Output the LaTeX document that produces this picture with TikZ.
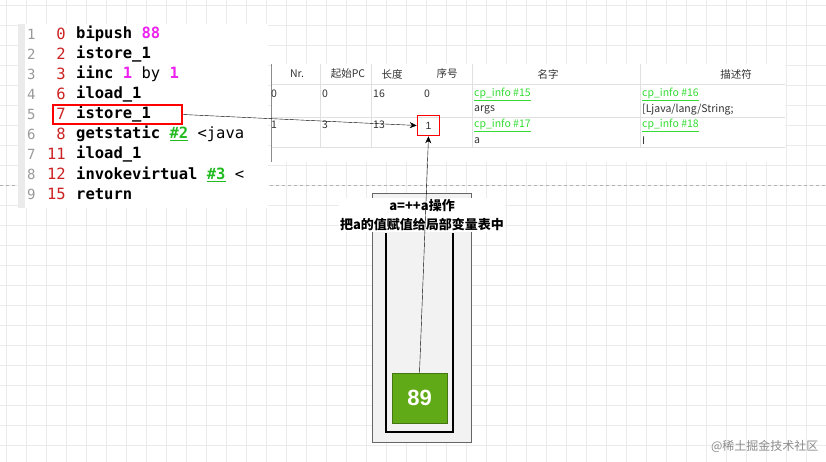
\documentclass[tikz,border=0pt]{standalone}
\usepackage{fontspec}
\setmainfont{Liberation Sans}
\setmonofont{DejaVu Sans Mono}
\newfontfamily\cjk{Noto Sans CJK SC}
\usetikzlibrary{arrows.meta}
\definecolor{lnum}{HTML}{999999}
\definecolor{offc}{HTML}{CC2222}
\definecolor{mag}{HTML}{EE22EE}
\definecolor{grn}{HTML}{22BB22}
\definecolor{lk}{HTML}{33DD33}
\definecolor{stk}{HTML}{60A917}
\definecolor{rbx}{HTML}{FF0000}
\tikzset{
 code/.style={anchor=west,font=\ttfamily\bfseries\fontsize{15.5}{18}\selectfont,inner sep=0},
 lno/.style={anchor=west,font=\ttfamily\fontsize{14}{18}\selectfont,text=lnum,inner sep=0},
 off/.style={anchor=east,font=\ttfamily\fontsize{15.5}{18}\selectfont,text=offc,inner sep=0},
 tb/.style={font=\cjk\fontsize{10.5}{12}\selectfont,inner sep=0,text=black!80},
 tbl/.style={tb,anchor=west},
 redbox/.style={draw=rbx,line width=1.6pt,inner sep=0},
 arr/.style={-{Stealth[length=7pt,width=6pt]},black}
}
\begin{document}
\begin{tikzpicture}[x=1pt,y=-1pt]
\useasboundingbox (0,0) rectangle (826,462);
\fill[white] (0,0) rectangle (826,462);
\foreach \i in {0,...,41} \draw[black!8] (\i*20+6,0) -- (\i*20+6,462);
\foreach \i in {0,...,23} \draw[black!8] (0,\i*20+5) -- (826,\i*20+5);
\draw[black!30,dashed] (0,185) -- (826,185);
% code panel
\fill[white] (18,24) rectangle (268,208);
\fill[black!8] (18,24) rectangle (25,208);
\foreach \n/\o/\t [count=\k from 0] in {1/0/{bipush \textcolor{mag}{88}},2/2/istore\_1,3/3/{iinc \textcolor{mag}{1} \textmd{by} \textcolor{mag}{1}},4/6/iload\_1,5/7/istore\_1,6/8/{getstatic \textcolor{grn}{\underline{\#2}} \textmd{<java}},7/11/iload\_1,8/12/{invokevirtual \textcolor{grn}{\underline{\#3}} \textmd{<}},9/15/return}{
 \node[lno] (ln\n) at (27,34+\k*20) {\n};
 \node[off] (of\n) at (66,34+\k*20) {\o};
 \node[code] (cd\n) at (76,34+\k*20) {\t};
}
\node[redbox,minimum width=129pt,minimum height=19pt] (ist) at (117.5,114.5) {};
% table
\fill[white] (272,64) rectangle (785,162);
\draw[black!45] (271,64) -- (271,162);
\draw[black!12] (272,84) -- (785,84) (272,117) -- (785,117) (272,147) -- (785,147);
\foreach \x in {320,371,472,640} \draw[black!12] (\x,64) -- (\x,147);
\node[tb] (h1) at (297,74) {Nr.};
\node[tb] (h2) at (348,74) {起始PC};
\node[tb] (h3) at (392,74) {长度};
\node[tb] (h4) at (447,74) {序号};
\node[tb] (h5) at (548,74) {名字};
\node[tb] (h6) at (736,74) {描述符};
\node[tbl] (a1) at (271,94) {0};
\node[tbl] (a2) at (322,94) {0};
\node[tbl] (a3) at (373,94) {16};
\node[tbl] (a4) at (424,94) {0};
\node[tbl,text=lk] (a5) at (474,94) {\underline{cp\_info \#15}};
\node[tbl,text=lk] (a6) at (642,94) {\underline{cp\_info \#16}};
\node[tbl] (a7) at (474,110) {args};
\node[tbl] (a8) at (642,110) {[Ljava/lang/String;};
\node[tbl] (b1) at (271,125) {1};
\node[tbl] (b2) at (322,125) {3};
\node[tbl] (b3) at (373,125) {13};
\node[tbl,text=lk] (b5) at (474,125) {\underline{cp\_info \#17}};
\node[tbl,text=lk] (b6) at (642,125) {\underline{cp\_info \#18}};
\node[tbl] (b7) at (474,141) {a};
\node[tbl] (b8) at (642,141) {I};
% stack
\draw[black!60,fill=black!5] (372,193) rectangle (471,442);
\draw[line width=1.6pt] (386,233) -- (386,432) -- (453,432) -- (453,233);
\node[fill=stk,draw=stk!70!black,minimum width=55pt,minimum height=50pt,inner sep=0,text=white,font=\bfseries\fontsize{22}{24}\selectfont] (v) at (419.5,398) {89};
\node[fill=white,align=center,inner sep=1pt,font=\cjk\bfseries\fontsize{13}{19}\selectfont] (lbl) at (422,215) {a=++a操作\\把a的值赋值给局部变量表中};
\node[redbox,minimum width=22pt,minimum height=20pt,text=black!80,font=\fontsize{10.5}{12}\selectfont] (one) at (428.5,125.5) {1};
\draw[arr] (ist.east) -- (one.west);
\draw[arr] (v.north) -- (one.south);
\node[anchor=east,text=black!45,font=\cjk\fontsize{12}{14}\selectfont] (wm) at (822,446) {@稀土掘金技术社区};
\end{tikzpicture}
\end{document}
